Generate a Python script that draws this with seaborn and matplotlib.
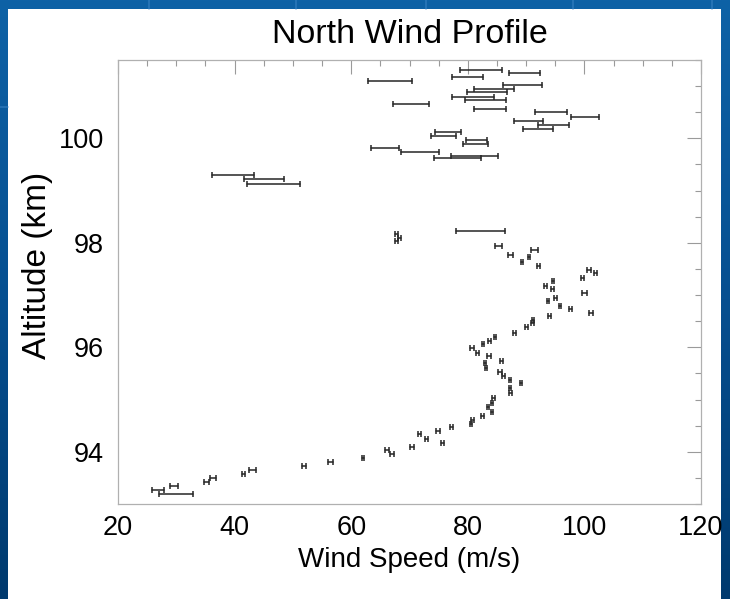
import numpy as np
import pandas as pd
import matplotlib
matplotlib.use("Agg")
import matplotlib.pyplot as plt
from matplotlib.patches import Rectangle
from matplotlib.ticker import MultipleLocator
import seaborn as sns

# ---- data: wind speed (m/s), half-width of uncertainty (m/s), altitude (km)
speed = [82.3, 89.8, 80.0, 66.6, 89.4, 84.5, 83.3, 80.9, 83.1, 70.3, 83.8, 94.3,
         100.1, 90.4, 94.7, 92.0, 76.6, 75.8, 81.5, 81.3, 65.8, 71.8, 81.2, 78.2,
         39.7, 45.0, 46.7, 82.2,
         67.8, 68.3, 67.8,
         85.2, 87.3, 91.4, 90.5, 89.3, 92.1, 100.8, 101.9, 99.7, 94.6, 93.3, 94.5,
         100.0, 95.0, 93.8, 95.8, 97.6, 101.1, 94.0, 91.2, 91.1, 90.1, 88.0, 84.7,
         83.7, 82.6, 80.7, 81.7, 83.6, 85.8, 83.0, 83.1, 85.5, 86.1, 87.2, 89.1,
         87.2, 87.3, 84.4, 84.1, 83.5, 84.2, 82.5, 80.8, 80.6, 77.2, 74.9, 71.7,
         72.9, 75.7, 70.4, 66.1, 67.0, 62.0, 56.4, 51.9, 43.1, 41.5, 36.3, 35.2,
         29.6, 26.9, 30.0]
speed_err = [3.65, 2.65, 2.65, 3.8, 3.4, 3.4, 3.5, 3.55, 3.5, 3.1, 2.7, 2.8,
             2.45, 2.5, 2.6, 2.55, 2.15, 2.1, 1.85, 2.1, 2.4, 3.3, 4.05, 4.0,
             3.55, 3.45, 4.5, 4.2,
             0.3, 0.3, 0.3,
             0.6, 0.4, 0.6, 0.2, 0.2, 0.3, 0.4, 0.3, 0.3, 0.2, 0.2, 0.2,
             0.4, 0.3, 0.2, 0.2, 0.2, 0.3, 0.3, 0.2, 0.2, 0.3, 0.3, 0.2,
             0.2, 0.2, 0.3, 0.3, 0.3, 0.3, 0.2, 0.2, 0.3, 0.2, 0.2, 0.2,
             0.2, 0.2, 0.2, 0.2, 0.2, 0.2, 0.3, 0.2, 0.2, 0.3, 0.3, 0.2,
             0.3, 0.3, 0.4, 0.3, 0.4, 0.2, 0.4, 0.3, 0.6, 0.3, 0.5, 0.4,
             0.7, 1.0, 2.9]
altitude = [101.31, 101.25, 101.17, 101.10, 101.03, 100.94, 100.89, 100.79, 100.73,
            100.65, 100.57, 100.50, 100.41, 100.34, 100.26, 100.18, 100.13, 100.04,
            99.97, 99.89, 99.82, 99.74, 99.66, 99.62, 99.30, 99.22, 99.13, 98.23,
            98.17, 98.10, 98.03,
            97.94, 97.77, 97.86, 97.72, 97.63, 97.56, 97.48, 97.42, 97.33, 97.26,
            97.18, 97.12, 97.03, 96.95, 96.89, 96.80, 96.73, 96.65, 96.59, 96.52,
            96.46, 96.38, 96.28, 96.20, 96.13, 96.06, 95.98, 95.90, 95.83, 95.74,
            95.69, 95.60, 95.53, 95.45, 95.37, 95.31, 95.22, 95.12, 95.02, 94.93,
            94.85, 94.77, 94.69, 94.61, 94.53, 94.48, 94.40, 94.34, 94.25, 94.17,
            94.10, 94.03, 93.95, 93.88, 93.80, 93.72, 93.65, 93.58, 93.50, 93.43,
            93.35, 93.27, 93.19]

x_ticks = [20, 40, 60, 80, 100, 120]
y_ticks = [94, 96, 98, 100]
title = "North Wind Profile"
xlabel = "Wind Speed (m/s)"
ylabel = "Altitude (km)"

# long-form table: each measurement contributes its lower and upper bound
rows = []
for s, e, a in zip(speed, speed_err, altitude):
    rows.append({"speed": s - e, "alt": a})
    rows.append({"speed": s + e, "alt": a})
df = pd.DataFrame(rows)

sns.set_theme(style="white")
plt.rcParams["font.family"] = ["Liberation Sans", "DejaVu Sans"]

W, H = 730, 599
fig = plt.figure(figsize=(W / 100, H / 100), dpi=100)

# slide-like blue background with gradient
bg = fig.add_axes([0, 0, 1, 1], zorder=-10)
grad = np.linspace(0, 1, 256).reshape(-1, 1)
cmap = matplotlib.colors.LinearSegmentedColormap.from_list("bg", ["#0e62a6", "#064f90", "#003a6e"])
bg.imshow(grad, aspect="auto", cmap=cmap, extent=[0, 1, 0, 1], origin="upper")
for xv in [149, 296, 426, 573, 712]:
    bg.plot([xv / W, xv / W], [1 - 9 / H, 1], color="#3d86c6", lw=1.2, alpha=0.6)
bg.plot([0, 8 / W], [1 - 107 / H] * 2, color="#3d86c6", lw=1.2, alpha=0.6)
bg.add_patch(Rectangle((8 / W, 0), (721 - 8) / W, (H - 9) / H, facecolor="white",
                       edgecolor="none", transform=bg.transAxes))
bg.set_xlim(0, 1)
bg.set_ylim(0, 1)
bg.axis("off")

ax = fig.add_axes([118 / W, (H - 504) / H, 583 / W, 444 / H])
ax.set_facecolor("white")

sns.lineplot(data=df, x="speed", y="alt", orient="y", estimator="mean",
             errorbar=lambda v: (v.min(), v.max()), err_style="bars",
             color="#262626", linestyle="", marker="|", markersize=2.5,
             markeredgewidth=0.8, sort=True, ax=ax,
             err_kws={"capsize": 2.3, "elinewidth": 1.1, "capthick": 1.1})

ax.set_xlim(20, 120)
ax.set_ylim(93, 101.5)
ax.set_xticks(x_ticks)
ax.set_yticks(y_ticks)
ax.xaxis.set_minor_locator(MultipleLocator(5))
ax.yaxis.set_minor_locator(MultipleLocator(0.5))
ax.tick_params(which="both", direction="in", top=True, right=True,
               color="#9a9a9a", width=0.8, labelsize=19.5, labelcolor="black")
ax.tick_params(which="major", length=10, pad=8)
ax.tick_params(which="minor", length=4.5)
ax.tick_params(axis="y", which="major", pad=10)
for sp in ax.spines.values():
    sp.set_color("#b0b0b0")
    sp.set_linewidth(0.9)

ax.set_xlabel(xlabel, fontsize=20, labelpad=4, color="black")
ax.set_ylabel(ylabel, fontsize=24, color="black")
ax.yaxis.set_label_coords(-0.112, 0.538)
ax.set_title(title, fontsize=24.5, pad=12, color="black")
ax.grid(False)

fig.savefig("out.png", dpi=100)
